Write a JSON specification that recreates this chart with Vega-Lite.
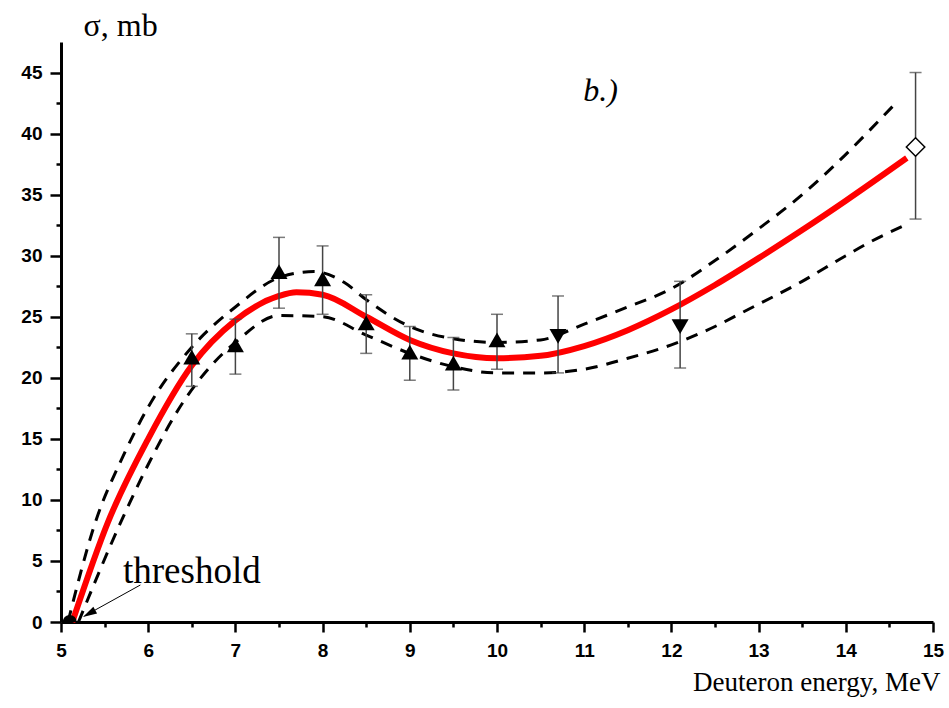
{
  "$schema": "https://vega.github.io/schema/vega-lite/v6.json",
  "autosize": {"type": "none"},
  "padding": {"left": 61, "top": 42, "right": 16, "bottom": 86},
  "width": 872,
  "height": 580,
  "background": "white",
  "config": {
    "view": {"stroke": null},
    "axis": {"grid": false, "domainColor": "black", "tickColor": "black", "labelColor": "black", "titleColor": "black"}
  },
  "datasets": {
    "fit": [
      {"E": 5.13, "sigma": 0}, {"E": 5.54, "sigma": 8.2}, {"E": 6.0, "sigma": 15.0}, {"E": 6.5, "sigma": 21.0},
      {"E": 7.0, "sigma": 24.7}, {"E": 7.5, "sigma": 26.7}, {"E": 7.7, "sigma": 27.0}, {"E": 8.0, "sigma": 26.8},
      {"E": 8.5, "sigma": 25.0}, {"E": 9.0, "sigma": 23.1}, {"E": 9.5, "sigma": 22.0}, {"E": 10.0, "sigma": 21.6},
      {"E": 10.5, "sigma": 21.8}, {"E": 11.0, "sigma": 22.6}, {"E": 11.5, "sigma": 23.9}, {"E": 12.0, "sigma": 25.6},
      {"E": 12.5, "sigma": 27.6}, {"E": 13.0, "sigma": 29.8}, {"E": 13.5, "sigma": 32.1}, {"E": 14.0, "sigma": 34.5},
      {"E": 14.7, "sigma": 38.0}
    ],
    "upper": [
      {"E": 5.08, "sigma": 0}, {"E": 5.4, "sigma": 8.3}, {"E": 5.7, "sigma": 13.4}, {"E": 6.0, "sigma": 17.6},
      {"E": 6.5, "sigma": 22.5}, {"E": 7.0, "sigma": 25.8}, {"E": 7.5, "sigma": 28.2}, {"E": 7.9, "sigma": 28.7},
      {"E": 8.25, "sigma": 27.8}, {"E": 8.5, "sigma": 26.4}, {"E": 9.0, "sigma": 24.2}, {"E": 9.5, "sigma": 23.2},
      {"E": 10.0, "sigma": 22.9}, {"E": 10.5, "sigma": 23.1}, {"E": 11.0, "sigma": 24.4}, {"E": 11.5, "sigma": 25.8},
      {"E": 12.0, "sigma": 27.3}, {"E": 12.5, "sigma": 29.6}, {"E": 13.0, "sigma": 32.2}, {"E": 13.5, "sigma": 35.0},
      {"E": 13.9, "sigma": 37.6}, {"E": 14.25, "sigma": 40.1}, {"E": 14.6, "sigma": 42.7}
    ],
    "lower": [
      {"E": 5.2, "sigma": 0}, {"E": 5.7, "sigma": 8.4}, {"E": 6.0, "sigma": 12.9}, {"E": 6.4, "sigma": 18.0},
      {"E": 6.71, "sigma": 20.9}, {"E": 7.0, "sigma": 22.9}, {"E": 7.5, "sigma": 25.1}, {"E": 8.0, "sigma": 25.0},
      {"E": 8.5, "sigma": 23.5}, {"E": 9.0, "sigma": 22.0}, {"E": 9.5, "sigma": 20.9}, {"E": 10.0, "sigma": 20.4},
      {"E": 10.5, "sigma": 20.4}, {"E": 11.0, "sigma": 20.7}, {"E": 11.5, "sigma": 21.6}, {"E": 12.0, "sigma": 22.7},
      {"E": 12.5, "sigma": 24.2}, {"E": 12.8, "sigma": 25.3}, {"E": 13.5, "sigma": 27.9}, {"E": 14.0, "sigma": 30.0},
      {"E": 14.3, "sigma": 31.2}, {"E": 14.65, "sigma": 32.4}
    ],
    "points": [
      {"E": 6.5, "sigma": 21.7, "lo": 19.3, "hi": 23.6, "set": "up"},
      {"E": 7.0, "sigma": 22.7, "lo": 20.3, "hi": 24.8, "set": "up"},
      {"E": 7.5, "sigma": 28.7, "lo": 25.7, "hi": 31.5, "set": "up"},
      {"E": 8.0, "sigma": 28.1, "lo": 25.2, "hi": 30.8, "set": "up"},
      {"E": 8.5, "sigma": 24.5, "lo": 22.0, "hi": 26.8, "set": "up"},
      {"E": 9.0, "sigma": 22.1, "lo": 19.8, "hi": 24.2, "set": "up"},
      {"E": 9.5, "sigma": 21.2, "lo": 19.0, "hi": 23.3, "set": "up"},
      {"E": 10.0, "sigma": 23.1, "lo": 20.7, "hi": 25.2, "set": "up"},
      {"E": 10.7, "sigma": 23.4, "lo": 20.4, "hi": 26.7, "set": "down"},
      {"E": 12.1, "sigma": 24.2, "lo": 20.8, "hi": 27.9, "set": "down"},
      {"E": 14.8, "sigma": 38.9, "lo": 33.0, "hi": 45.0, "set": "diamond"}
    ],
    "threshold": [{"E": 5.1, "sigma": 0}],
    "one": [{}]
  },
  "resolve": {"axis": {"x": "independent", "y": "independent"}},
  "layer": [
    {
      "data": {"name": "points"},
      "mark": {"type": "point", "opacity": 0},
      "encoding": {
        "x": {"field": "E", "type": "quantitative", "scale": {"domain": [5, 15], "nice": false, "zero": false},
              "axis": {"orient": "bottom", "values": [5.5, 6.5, 7.5, 8.5, 9.5, 10.5, 11.5, 12.5, 13.5, 14.5], "labels": false, "domain": false, "tickSize": 5, "tickWidth": 2.5, "title": null}},
        "y": {"field": "sigma", "type": "quantitative", "scale": {"domain": [0, 47.5], "nice": false},
              "axis": {"orient": "left", "values": [2.5, 7.5, 12.5, 17.5, 22.5, 27.5, 32.5, 37.5, 42.5], "labels": false, "domain": false, "tickSize": 5, "tickWidth": 2.5, "title": null}}
      }
    },
    {
      "encoding": {
        "x": {"type": "quantitative",
              "axis": {"orient": "bottom", "values": [5, 6, 7, 8, 9, 10, 11, 12, 13, 14, 15], "tickSize": 10, "tickWidth": 2.5, "domainWidth": 3,
                       "labelFont": "Liberation Sans", "labelFontWeight": "bold", "labelFontSize": 19, "labelPadding": 9, "labelFlush": false,
                       "title": "Deuteron energy, MeV", "titleFont": "Liberation Serif", "titleFontWeight": "normal", "titleFontSize": 27,
                       "titleAnchor": "end", "titleAlign": "right", "titleX": 879, "titleY": 68, "titleBaseline": "alphabetic"}},
        "y": {"type": "quantitative",
              "axis": {"orient": "left", "values": [0, 5, 10, 15, 20, 25, 30, 35, 40, 45], "tickSize": 11, "tickWidth": 2.5, "domainWidth": 3,
                       "labelFont": "Liberation Sans", "labelFontWeight": "bold", "labelFontSize": 19, "labelPadding": 8, "labelFlush": false,
                       "title": "σ, mb", "titleFont": "Liberation Serif", "titleFontWeight": "normal", "titleFontSize": 32,
                       "titleAngle": 0, "titleAlign": "left", "titleBaseline": "alphabetic", "titleX": 22, "titleY": -7}}
      },
      "layer": [
        {
          "data": {"name": "upper"},
          "mark": {"type": "line", "color": "black", "strokeWidth": 3, "strokeDash": [12, 9], "interpolate": "monotone"},
          "encoding": {"x": {"field": "E"}, "y": {"field": "sigma"}}
        },
        {
          "data": {"name": "lower"},
          "mark": {"type": "line", "color": "black", "strokeWidth": 3, "strokeDash": [12, 9], "interpolate": "monotone"},
          "encoding": {"x": {"field": "E"}, "y": {"field": "sigma"}}
        },
        {
          "data": {"name": "fit"},
          "mark": {"type": "line", "color": "#ff0000", "strokeWidth": 6, "interpolate": "monotone"},
          "encoding": {"x": {"field": "E"}, "y": {"field": "sigma"}}
        },
        {
          "data": {"name": "threshold"},
          "mark": {"type": "point", "shape": "circle", "filled": true, "color": "black", "size": 200, "clip": true, "opacity": 1},
          "encoding": {"x": {"field": "E"}, "y": {"field": "sigma"}}
        },
        {
          "data": {"name": "points"},
          "mark": {"type": "rule", "color": "#444444", "strokeWidth": 1.5},
          "encoding": {"x": {"field": "E"}, "y": {"field": "lo"}, "y2": {"field": "hi"}}
        },
        {
          "data": {"name": "points"},
          "mark": {"type": "tick", "orient": "horizontal", "color": "#444444", "thickness": 1.5, "size": 12},
          "encoding": {"x": {"field": "E"}, "y": {"field": "lo"}}
        },
        {
          "data": {"name": "points"},
          "mark": {"type": "tick", "orient": "horizontal", "color": "#444444", "thickness": 1.5, "size": 12},
          "encoding": {"x": {"field": "E"}, "y": {"field": "hi"}}
        },
        {
          "data": {"name": "points"},
          "transform": [{"filter": "datum.set === 'up'"}],
          "mark": {"type": "point", "shape": "triangle-up", "filled": true, "color": "black", "size": 290, "opacity": 1},
          "encoding": {"x": {"field": "E"}, "y": {"field": "sigma"}}
        },
        {
          "data": {"name": "points"},
          "transform": [{"filter": "datum.set === 'down'"}],
          "mark": {"type": "point", "shape": "triangle-down", "filled": true, "color": "black", "size": 290, "opacity": 1},
          "encoding": {"x": {"field": "E"}, "y": {"field": "sigma"}}
        },
        {
          "data": {"name": "points"},
          "transform": [{"filter": "datum.set === 'diamond'"}],
          "mark": {"type": "point", "shape": "diamond", "filled": true, "fill": "white", "stroke": "black", "strokeWidth": 1.5, "size": 340, "opacity": 1},
          "encoding": {"x": {"field": "E"}, "y": {"field": "sigma"}}
        },
        {
          "data": {"name": "one"},
          "mark": {"type": "rule", "color": "black", "strokeWidth": 1},
          "encoding": {"x": {"datum": 5.27}, "y": {"datum": 0.5}, "x2": {"datum": 5.91}, "y2": {"datum": 3.03}}
        },
        {
          "data": {"name": "one"},
          "mark": {"type": "point", "shape": "M0,-1L0.55,1L-0.55,1Z", "filled": true, "color": "black", "size": 196, "angle": 241, "opacity": 1},
          "encoding": {"x": {"datum": 5.322}, "y": {"datum": 0.687}}
        },
        {
          "data": {"name": "one"},
          "mark": {"type": "text", "text": "threshold", "font": "Liberation Serif", "fontSize": 37, "align": "left", "baseline": "alphabetic", "color": "black"},
          "encoding": {"x": {"datum": 5.711}, "y": {"datum": 3.19}}
        },
        {
          "data": {"name": "one"},
          "mark": {"type": "text", "text": "b.)", "font": "Liberation Serif", "fontStyle": "italic", "fontSize": 32, "align": "left", "baseline": "alphabetic", "color": "black"},
          "encoding": {"x": {"datum": 10.99}, "y": {"datum": 42.7}}
        }
      ]
    }
  ]
}
